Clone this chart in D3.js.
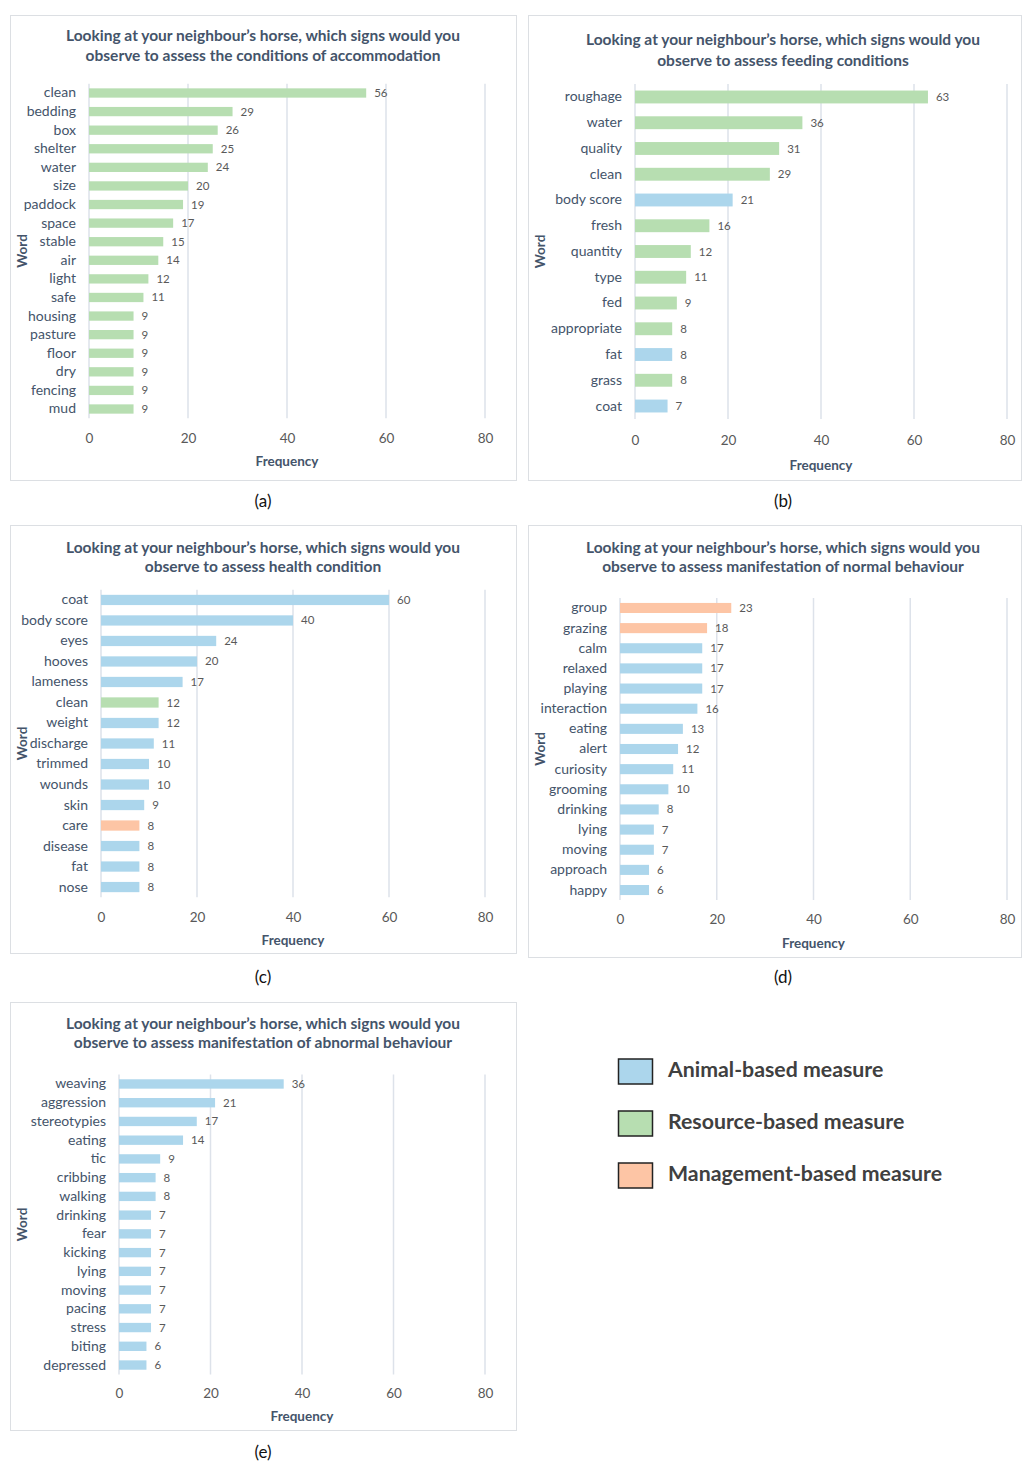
<!DOCTYPE html>
<html>
<head>
<meta charset="utf-8">
<script src="https://cdn.jsdelivr.net/npm/d3@7"></script>
<style>
  body { margin: 0; background: #fff; }
  text { font-family: Lato, "Open Sans", sans-serif; }
</style>
</head>
<body>
<div id="chart"></div>
<script>
// data: words, frequencies and measure type (A = animal, R = resource, M = management)
var accomWords = ["clean", "bedding", "box", "shelter", "water", "size", "paddock", "space", "stable", "air", "light", "safe", "housing", "pasture", "floor", "dry", "fencing", "mud"];
var accomFreq  = [56, 29, 26, 25, 24, 20, 19, 17, 15, 14, 12, 11, 9, 9, 9, 9, 9, 9];
var accomType  = ["R","R","R","R","R","R","R","R","R","R","R","R","R","R","R","R","R","R"];

var feedWords = ["roughage", "water", "quality", "clean", "body score", "fresh", "quantity", "type", "fed", "appropriate", "fat", "grass", "coat"];
var feedFreq  = [63, 36, 31, 29, 21, 16, 12, 11, 9, 8, 8, 8, 7];
var feedType  = ["R","R","R","R","A","R","R","R","R","R","A","R","A"];

var healthWords = ["coat", "body score", "eyes", "hooves", "lameness", "clean", "weight", "discharge", "trimmed", "wounds", "skin", "care", "disease", "fat", "nose"];
var healthFreq  = [60, 40, 24, 20, 17, 12, 12, 11, 10, 10, 9, 8, 8, 8, 8];
var healthType  = ["A","A","A","A","A","R","A","A","A","A","A","M","A","A","A"];

var normalWords = ["group", "grazing", "calm", "relaxed", "playing", "interaction", "eating", "alert", "curiosity", "grooming", "drinking", "lying", "moving", "approach", "happy"];
var normalFreq  = [23, 18, 17, 17, 17, 16, 13, 12, 11, 10, 8, 7, 7, 6, 6];
var normalType  = ["M","M","A","A","A","A","A","A","A","A","A","A","A","A","A"];

var abnormWords = ["weaving", "aggression", "stereotypies", "eating", "tic", "cribbing", "walking", "drinking", "fear", "kicking", "lying", "moving", "pacing", "stress", "biting", "depressed"];
var abnormFreq  = [36, 21, 17, 14, 9, 8, 8, 7, 7, 7, 7, 7, 7, 7, 6, 6];
var abnormType  = ["A","A","A","A","A","A","A","A","A","A","A","A","A","A","A","A"];

var xTicks = [0, 20, 40, 60, 80];
var legendTypes = ["A", "R", "M"];
var legendLabels = ["Animal-based measure", "Resource-based measure", "Management-based measure"];

var colors = { A: "#acd6ec", R: "#b7deb1", M: "#fdc5a5" };
var titleColor = "#44546a";
var grey = "#595959";

var svg = d3.select("#chart").append("svg")
  .attr("width", 1022)
  .attr("height", 1463);

var panels = [
  { words: accomWords, freq: accomFreq, type: accomType, caption: "(a)",
    title: ["Looking at your neighbour\u2019s horse, which signs would you", "observe to assess the conditions of accommodation"],
    box: [10, 15, 506, 465], titleY: [36, 56], cx: 263, xr: [89, 485], yr: [83.7, 418.3],
    tickY: 438, freqY: 461, capY: 501 },
  { words: feedWords, freq: feedFreq, type: feedType, caption: "(b)",
    title: ["Looking at your neighbour\u2019s horse, which signs would you", "observe to assess feeding conditions"],
    box: [528, 15, 493, 465], titleY: [40, 61], cx: 783, xr: [635, 1007], yr: [84.1, 418.9],
    tickY: 440, freqY: 465, capY: 501 },
  { words: healthWords, freq: healthFreq, type: healthType, caption: "(c)",
    title: ["Looking at your neighbour\u2019s horse, which signs would you", "observe to assess health condition"],
    box: [10, 525, 506, 428], titleY: [548, 567], cx: 263, xr: [101, 485], yr: [589.7, 897.3],
    tickY: 917, freqY: 940, capY: 977 },
  { words: normalWords, freq: normalFreq, type: normalType, caption: "(d)",
    title: ["Looking at your neighbour\u2019s horse, which signs would you", "observe to assess manifestation of normal behaviour"],
    box: [528, 525, 493, 432], titleY: [548, 567], cx: 783, xr: [620, 1007], yr: [597.9, 900.1],
    tickY: 919, freqY: 943, capY: 977 },
  { words: abnormWords, freq: abnormFreq, type: abnormType, caption: "(e)",
    title: ["Looking at your neighbour\u2019s horse, which signs would you", "observe to assess manifestation of abnormal behaviour"],
    box: [10, 1002, 506, 428], titleY: [1024, 1043], cx: 263, xr: [119, 485], yr: [1074.6, 1374.4],
    tickY: 1393, freqY: 1416, capY: 1452 }
];

panels.forEach(function(p) {
  var g = svg.append("g");

  // panel frame
  g.append("rect")
    .attr("x", p.box[0] + 0.5).attr("y", p.box[1] + 0.5)
    .attr("width", p.box[2]).attr("height", p.box[3])
    .attr("fill", "none").attr("stroke", "#dcdfe3");

  // title
  g.selectAll(null).data(p.title).enter().append("text")
    .attr("x", p.cx)
    .attr("y", function(d, i) { return p.titleY[i]; })
    .attr("dy", "0.35em")
    .attr("text-anchor", "middle")
    .style("font-size", "15.5px").style("font-weight", "bold")
    .style("fill", titleColor)
    .text(function(d) { return d; });

  var x = d3.scaleLinear().domain([0, 80]).range(p.xr);
  var y = d3.scaleBand().domain(p.words).range(p.yr).paddingInner(0.5).paddingOuter(0.25);

  // vertical gridlines
  g.selectAll(null).data(xTicks).enter().append("line")
    .attr("x1", function(d) { return x(d); }).attr("x2", function(d) { return x(d); })
    .attr("y1", p.yr[0]).attr("y2", p.yr[1])
    .attr("stroke", "#dde2ea").attr("stroke-width", 1.5);

  // x tick labels
  var xAxis = g.append("g")
    .attr("transform", "translate(0," + (p.tickY - 5) + ")")
    .call(d3.axisBottom(x).tickValues(xTicks).tickSize(0).tickPadding(0));
  xAxis.select(".domain").remove();
  xAxis.selectAll("text")
    .style("font-size", "13.5px").style("fill", grey)
    .style("font-family", "Lato, sans-serif");

  // word labels
  var yAxis = g.append("g")
    .attr("transform", "translate(" + p.xr[0] + ",0)")
    .call(d3.axisLeft(y).tickSize(0).tickPadding(13));
  yAxis.select(".domain").remove();
  yAxis.selectAll("text")
    .style("font-size", "14px").style("fill", titleColor)
    .style("font-family", "Lato, sans-serif");

  // bars
  g.selectAll(null).data(p.words).enter().append("rect")
    .attr("x", x(0))
    .attr("y", function(d) { return y(d); })
    .attr("width", function(d, i) { return x(p.freq[i]) - x(0); })
    .attr("height", y.bandwidth())
    .attr("fill", function(d, i) { return colors[p.type[i]]; });

  // value labels
  g.selectAll(null).data(p.words).enter().append("text")
    .attr("x", function(d, i) { return x(p.freq[i]) + 8; })
    .attr("y", function(d) { return y(d) + y.bandwidth() / 2; })
    .attr("dy", "0.35em")
    .style("font-size", "11.5px").style("fill", grey)
    .text(function(d, i) { return p.freq[i]; });

  // axis titles
  g.append("text")
    .attr("x", (p.xr[0] + p.xr[1]) / 2).attr("y", p.freqY)
    .attr("dy", "0.35em").attr("text-anchor", "middle")
    .style("font-size", "13.5px").style("font-weight", "bold").style("fill", titleColor)
    .text("Frequency");

  var wy = (p.yr[0] + p.yr[1]) / 2;
  g.append("text")
    .attr("transform", "translate(" + (p.box[0] + 12) + "," + wy + ") rotate(-90)")
    .attr("dy", "0.35em").attr("text-anchor", "middle")
    .style("font-size", "13.5px").style("font-weight", "bold").style("fill", titleColor)
    .text("Word");

  // panel caption
  g.append("text")
    .attr("x", p.cx).attr("y", p.capY)
    .attr("dy", "0.35em").attr("text-anchor", "middle")
    .style("font-size", "17px").style("fill", "#111")
    .text(p.caption);
});

// legend
var legend = svg.append("g");
legend.selectAll(null).data(legendTypes).enter().append("rect")
  .attr("x", 618.5)
  .attr("y", function(d, i) { return 1059 + i * 52; })
  .attr("width", 34).attr("height", 25)
  .attr("fill", function(d) { return colors[d]; })
  .attr("stroke", "#222").attr("stroke-width", 1.5);
legend.selectAll(null).data(legendLabels).enter().append("text")
  .attr("x", 668)
  .attr("y", function(d, i) { return 1070 + i * 52; })
  .attr("dy", "0.35em")
  .style("font-size", "21.3px").style("font-weight", "bold").style("fill", "#404040")
  .text(function(d) { return d; });
</script>
</body>
</html>
